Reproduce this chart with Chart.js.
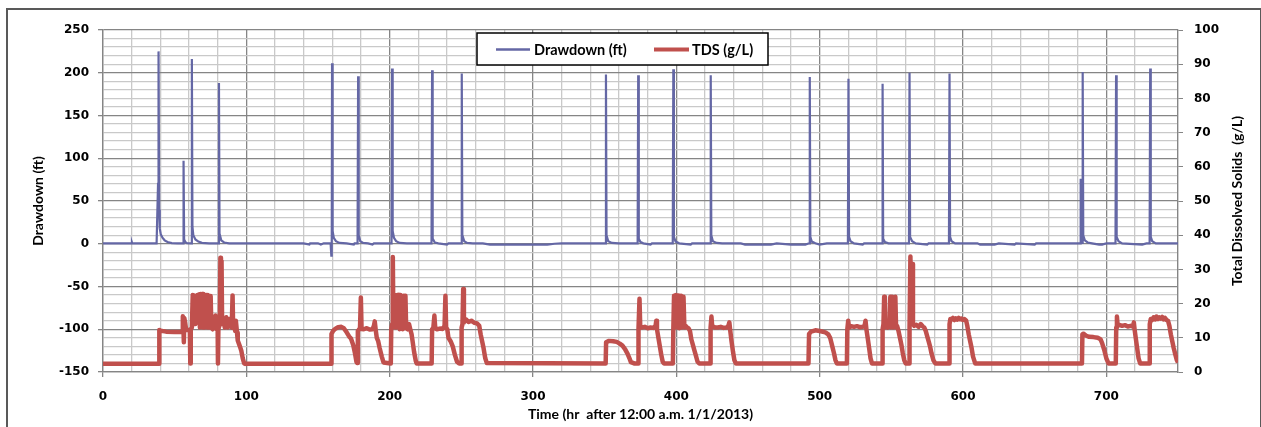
<!DOCTYPE html>
<html lang="en">
<head>
<meta charset="UTF-8">
<title>Drawdown and TDS</title>
<script src="https://cdn.jsdelivr.net/npm/chart.js"></script>
<style>
  html, body { margin: 0; padding: 0; background: #fff; }
  #wrap { position: relative; width: 1261px; height: 427px; overflow: hidden; }
  #frame { position: absolute; left: 6px; top: 8px; width: 1252px; height: 440px;
           border: 2px solid #595959; }
  #wrap canvas { position: absolute; left: 0; top: 0; }
</style>
</head>
<body>
<div id="wrap">
  <div id="frame"></div>
  <canvas id="chart"></canvas>
</div>
<script>
// Drawdown (ft) vs time (hr)
const drawdownPts = [
  [0,0.5],[3,0.5],[3.2,1.5],[3.4,0.5],[20,0.5],[20.2,1.5],[20.4,0.5],
  [37.4,0.5],[38.4,70],[38.6,72],[38.9,225],[39.2,40],[39.6,18],[40.3,11],[41.5,7],[43,4],[45,2],[48,0.8],[52,0.5],
  [56,0.5],[56.2,97],[56.6,5],[57.5,2],[58.5,0.8],[61.6,0.5],[62.0,216],[62.4,20],[63,10],[64.5,5],[66.5,2.5],[69,1],[74,0.5],
  [80.5,0.5],[80.9,188],[81.3,12],[82.5,4],[84.5,1.5],[88,0.5],
  [100,0.5],[140,0.5],[144,-1],[144.5,0.5],[150,0.5],[152,-1],[154,0.5],
  [158.8,0.5],[159.3,-14],[159.6,0],[159.8,211],[160.2,15],[161,7],[162.5,3],[165,1],[170,0.5],[175,-1],[175.5,0.5],
  [177.6,0.5],[178,196],[178.4,10],[179.5,3],[181.5,1],[185,0.5],[188,-1],[189,0.5],
  [201.3,0.5],[201.7,205],[202.1,15],[203,7],[204.5,3],[207,1],[212,0.5],
  [229.2,0.5],[229.6,203],[230,6],[231.5,1.5],[234,0.5],[240,-1],[241,0.5],
  [249.9,0.5],[250.3,199],[250.7,10],[252,3],[254,1],[258,0.5],
  [265,0.5],[270,-1],[273,-1],[278,-1],[285,-1],[300,-1],[310,-1],[315,0],[320,0.5],
  [350.5,0.5],[350.9,198],[351.3,10],[352.5,3],[355,1],[360,0.5],
  [373,0.5],[373.4,197],[373.8,6],[375,2],[377,0.5],[382,-1],[383,0.5],
  [397.5,0.5],[397.9,204],[398.3,8],[399.5,2.5],[402,0.5],[410,-1],[411,0.5],
  [423.6,0.5],[424,197],[424.4,10],[425.5,3],[428,1],[432,0.5],
  [445,0.5],[448,-1],[455,-1],[460,-1],[466,-1],[470,0.5],[480,-1],[485,-1],[490,-1],
  [492.7,0.5],[493.1,195],[493.5,8],[494.5,2.5],[497,0.5],[500,-1],[505,0.5],
  [519.7,0.5],[520.1,193],[520.5,8],[521.5,3],[524,0.5],[530,-1],[531,0.5],
  [543.5,0.5],[543.9,187],[544.3,6],[545.5,2],[548,0.5],
  [562.3,0.5],[562.7,200],[563.1,8],[564.5,3],[567,0.5],[575,-1],[576,0.5],
  [590.2,0.5],[590.6,199],[591,8],[592,3],[594.5,0.5],
  [610,0.5],[612,-1],[618,-1],[622,-1],[625,0.5],[636,-1],[637,0.5],[650,-1],[651,0.5],
  [681.8,0.5],[682.1,76],[682.4,1],[683.1,1],[683.5,201],[683.9,10],[685,4],[687,1.5],[690,0.5],[695,-1],[697,-1],[700,0.5],
  [706.4,0.5],[706.8,197],[707.2,8],[708.5,3],[711,0.5],
  [725,-1],[728,0.5],[730.2,0.5],[730.6,205],[731,8],[732,3],[734.5,0.5],[750,0.5]
];

// TDS (g/L) vs time (hr)
const tdsPts = [
  [0,2.4],[39.1,2.4],[39.3,12.3],[40,12.1],[44,11.8],[50,11.7],[55.4,11.7],
  [55.7,16.3],[56,15.5],[56.4,8.7],[56.7,15.8],[57.3,14.5],[58,12.3],[60.6,12.3],[60.9,2.5],[61.2,12.5],
  [62,13],[62.6,22.5],[63,14],[64,22.3],[64.5,14],[65.5,16],[66,22.5],[66.5,15],[67.2,22.7],[67.6,13],[68.1,22.8],[68.6,14],
  [69.1,22.8],[69.6,13],[70.1,22.8],[70.6,13],[71.1,22.5],[71.6,14],[72.1,22.5],[72.6,13],[73.1,22.5],[73.6,13],
  [74.1,22],[74.6,13],[75.1,22.2],[75.6,13],[76.5,12.5],[77.5,16],[78,13],[78.5,16.5],[79.3,12.5],[80,12.3],
  [80.2,2.5],[80.5,12.5],[81.5,14],[81.9,33.4],[82.3,20],[82.7,32.5],[83.1,14],[84,15.5],[85,13],[86,16],[87,13],
  [88,15.5],[89,13.5],[89.8,13],[90.4,22.4],[90.8,13],[91.5,14],[92.2,12],[92.7,15],[93.5,11.5],[94,9.2],
  [95.5,7.5],[96.5,6.2],[97.5,4],[98.5,2.5],[99,2.4],
  [159.1,2.4],[159.4,11.1],[160.5,12],[162,12.6],[164,13.1],[166.3,13.2],[168,12.8],[170,11.6],[171.7,10.4],
  [173,9.8],[174.5,8],[175.8,5.5],[176.8,3],[177.4,2.6],[177.8,12],[178.4,12.3],[179.3,12.8],[179.9,21.8],
  [180.4,12.6],[182,12.5],[184,12.8],[186,12.4],[188,12.5],[189,13.5],[189.6,14.8],[190.2,12.5],[191,10],
  [192,9],[193,7],[194.5,4.5],[195.7,2.8],[200.8,2.5],
  [201.1,12.5],[201.7,14],[202.2,33.6],[202.6,14],[203.2,22.5],[203.7,13],[204.2,22.3],[204.8,13],[205.3,22.5],
  [205.9,13],[206.4,22.6],[207,12.5],[207.5,22.5],[208.1,13],[208.6,22],[209.2,12.5],[209.7,22.3],[210.3,13],
  [211,22.3],[211.5,12.8],[212.5,12.5],[213.5,14],[214.5,12.3],[215.3,11],[216,9],[217,6],[218.2,3.3],[218.8,2.5],
  [229.3,2.5],[229.6,12.5],[230.5,13],[231.2,16.5],[231.8,12.8],[233,12.5],[235,12.7],[237,12.6],[238.3,13.5],
  [238.9,22.3],[239.4,13],[240.2,12.5],[241,10],[242.5,9],[244,7.5],[245.5,5],[247,3],[248.5,2.5],
  [249.9,2.5],[250.2,13],[250.8,14],[251.3,24.3],[251.8,14.5],[252.5,15],[253.5,15.3],[255,14.6],[257,15],
  [259,14.4],[261,14.2],[262.5,13.5],[263.5,11],[264.5,9],[265.5,7],[266.7,4],[267.8,2.6],
  [350.7,2.5],[351,8.7],[353,9.1],[356,9.0],[358.4,8.8],[360.5,8.3],[362.4,7.7],[364.2,6.7],[366,5.3],
  [367.3,4],[368.3,2.9],[370.6,2.5],
  [373.3,2.5],[373.6,12.5],[374.3,21.4],[374.8,13.5],[376,13],[378,13.2],[380,12.8],[382,13],[384,12.9],
  [385.5,13.5],[386,15],[386.5,12.5],[387.5,10],[388.5,7.5],[389.5,5],[390.5,3],[391.5,2.5],
  [397.6,2.5],[397.9,12.5],[398.4,22.3],[398.9,13],[399.8,22.5],[400.5,13],[401.5,22.4],[402.2,12.8],
  [403.3,22.3],[404,13],[405,22],[405.6,13],[406.5,13.5],[407.5,13],[408.5,12.8],[409.5,12],[410.5,9.5],
  [411.5,8],[412.5,6.5],[413.5,5],[414.8,3],[416,2.5],
  [423.6,2.5],[423.9,13],[424.5,16.2],[425,13.5],[427,13],[429,13],[431,13.2],[433,12.9],[435,13],
  [436.3,13.5],[437,14.5],[437.5,12.5],[438.5,9],[439.5,6],[440.5,3.5],[441.5,2.5],
  [492.2,2.5],[492.6,11.1],[494,11.8],[497,12.2],[500,12.0],[504,11.6],[506,11],[507.3,10],[508.5,8],
  [510,5.5],[511,3.5],[512,2.5],
  [519,2.5],[519.3,12.5],[519.9,15],[520.5,13],[522,13.4],[524,13.2],[526,13.4],[528,13.1],[530,13.2],
  [531.3,13.5],[532,15],[532.6,12.5],[533.5,10],[534.5,7],[535.5,4],[536.5,2.5],
  [543.6,2.5],[543.9,12.5],[544.5,14],[545,22],[545.5,13],[546.5,13.5],[547.5,13],[548.5,14],[549.3,22],
  [549.8,13],[550.6,22],[551.2,13],[552,14],[552.8,22],[553.3,13],[554,13.5],[555,12],[556,10],[557,8],
  [558,5.5],[559,3.5],[560,2.5],
  [562.4,2.5],[562.7,13],[563.3,33.8],[563.8,20],[564.6,31.6],[565.1,14],[566,13.5],[567.5,13.8],[569,13.2],
  [570.5,14],[572,13.3],[573,13],[574,12],[575,10.5],[576,9],[577,7.5],[578,5.5],[579.3,3.5],[580.7,2.5],
  [590.3,2.5],[590.6,14],[591.2,15.5],[592,15.3],[593,15.8],[594,15.2],[595,15.7],[596,15.3],[597,15.8],
  [598,15.4],[599,15.6],[600,15.2],[601,15.5],[602.2,15],[603,13.5],[604,11],[605,9],[606,7],[607,4.5],[608.5,2.5],
  [683,2.5],[683.3,11],[684,11.2],[686,10.6],[688,10.3],[691,10.2],[694,10],[695.9,9.6],[697,8.5],
  [698.5,6.5],[700,4],[701.5,2.5],
  [706.6,2.5],[706.9,13],[707.4,16.2],[707.9,13.5],[709,13.8],[711,13.5],[713,13.7],[715,13.3],[717,13.5],
  [718.5,13.3],[719.2,14.5],[719.7,12.5],[720.5,10],[721.5,7],[722.5,4],[723.6,2.5],
  [730,2.5],[730.3,14],[731,15.5],[732,15.2],[733,16],[734,15.4],[735,16.2],[736,15.5],[737,16],[738,15.6],
  [739,16.1],[740,15.4],[741,15.8],[742,15.2],[743,15],[744,13.5],[745,11],[746,9],[747,7],[748.2,5],
  [749.2,3.5],[750,2.8]
];

const seriesNames = ['Drawdown (ft)', 'TDS (g/L)'];
const axisTitles = ['Time (hr  after 12:00 a.m. 1/1/2013)', 'Drawdown (ft)', 'Total Dissolved Solids  (g/L)'];

const blue = '#6467a5';
const red = '#c0504d';
const majorGrid = '#858585';
const minorGrid = '#c9c9c9';
const tickFont = { family: 'DejaVu Sans', weight: 'bold', size: 12 };
const titleFont = { family: 'Lato', weight: 'bold', size: 14 };

// legend drawn inside the plot, like the original
const legendBox = {
  id: 'legendBox',
  afterDatasetsDraw(chart) {
    const ctx = chart.ctx;
    const x = 477, y = 33, w = 291, h = 32;
    ctx.save();
    ctx.fillStyle = '#fff';
    ctx.fillRect(x, y, w, h);
    ctx.strokeStyle = '#000';
    ctx.lineWidth = 1.5;
    ctx.strokeRect(x, y, w, h);
    ctx.lineCap = 'butt';
    ctx.strokeStyle = blue; ctx.lineWidth = 2.5;
    ctx.beginPath(); ctx.moveTo(496, 49.5); ctx.lineTo(530, 49.5); ctx.stroke();
    ctx.strokeStyle = red; ctx.lineWidth = 4;
    ctx.beginPath(); ctx.moveTo(654, 49.5); ctx.lineTo(689, 49.5); ctx.stroke();
    ctx.fillStyle = '#000';
    ctx.font = 'bold 14.5px Lato';
    ctx.textBaseline = 'middle';
    ctx.fillText(seriesNames[0], 534, 50);
    ctx.fillText(seriesNames[1], 692, 50);
    ctx.restore();
  }
};

// right axis title reads bottom-to-top in the original
const rightTitle = {
  id: 'rightTitle',
  afterDraw(chart) {
    const ctx = chart.ctx;
    const area = chart.chartArea;
    ctx.save();
    ctx.translate(1237, (area.top + area.bottom) / 2);
    ctx.rotate(-Math.PI / 2);
    ctx.fillStyle = '#000';
    ctx.font = 'bold 14px Lato';
    ctx.textAlign = 'center';
    ctx.textBaseline = 'middle';
    ctx.fillText(axisTitles[2], 0, 0);
    ctx.restore();
  }
};

const ctx = document.getElementById('chart');
new Chart(ctx, {
  type: 'line',
  data: {
    datasets: [
      {
        label: seriesNames[0],
        data: drawdownPts.map(p => ({ x: p[0], y: p[1] })),
        yAxisID: 'y',
        borderColor: blue,
        borderWidth: 2.2,
        pointRadius: 0,
        tension: 0
      },
      {
        label: seriesNames[1],
        data: tdsPts.map(p => ({ x: p[0], y: p[1] })),
        yAxisID: 'y2',
        borderColor: red,
        borderWidth: 4.5,
        borderJoinStyle: 'round',
        pointRadius: 0,
        tension: 0
      }
    ]
  },
  options: {
    responsive: true,
    maintainAspectRatio: false,
    animation: false,
    layout: { padding: { top: 30, left: 0, right: 0, bottom: 0 } },
    plugins: { legend: { display: false }, tooltip: { enabled: false } },
    scales: {
      x: {
        type: 'linear',
        min: 0, max: 750,
        afterFit: s => { s.height = 55; },
        ticks: {
          stepSize: 20, autoSkip: false, maxRotation: 0, padding: 13,
          color: '#000', font: tickFont,
          callback: v => (v % 100 === 0 ? v : '')
        },
        grid: {
          color: c => (c.tick && c.tick.value % 100 === 0 ? majorGrid : minorGrid),
          lineWidth: 1.3,
          tickColor: c => (c.tick && c.tick.value % 100 === 0 ? majorGrid : 'rgba(0,0,0,0)'),
          tickLength: 5
        },
        border: { color: majorGrid, width: 1.3 },
        title: { display: true, text: axisTitles[0], color: '#000', font: titleFont, padding: { top: 0, bottom: 4 } }
      },
      y: {
        position: 'left',
        min: -150, max: 250,
        afterFit: s => { s.width = 103; },
        ticks: {
          stepSize: 10, autoSkip: false, padding: 9,
          color: '#000', font: tickFont,
          callback: v => (v % 50 === 0 ? v : '')
        },
        grid: {
          color: c => (c.tick && c.tick.value % 50 === 0 ? majorGrid : minorGrid),
          lineWidth: 1.3,
          tickColor: c => (c.tick && c.tick.value % 50 === 0 ? majorGrid : 'rgba(0,0,0,0)'),
          tickLength: 5
        },
        border: { color: majorGrid, width: 1.3 },
        title: { display: true, text: axisTitles[1], color: '#000', font: titleFont, padding: { top: 30, bottom: 0 } }
      },
      y2: {
        position: 'right',
        min: 0, max: 100,
        afterFit: s => { s.width = 83; },
        ticks: { stepSize: 10, padding: 11, color: '#000', font: tickFont },
        grid: { drawOnChartArea: false, tickColor: majorGrid, tickLength: 5 },
        border: { color: majorGrid, width: 1.3 },
        title: { display: false }
      }
    }
  },
  plugins: [legendBox, rightTitle]
});
</script>
</body>
</html>
